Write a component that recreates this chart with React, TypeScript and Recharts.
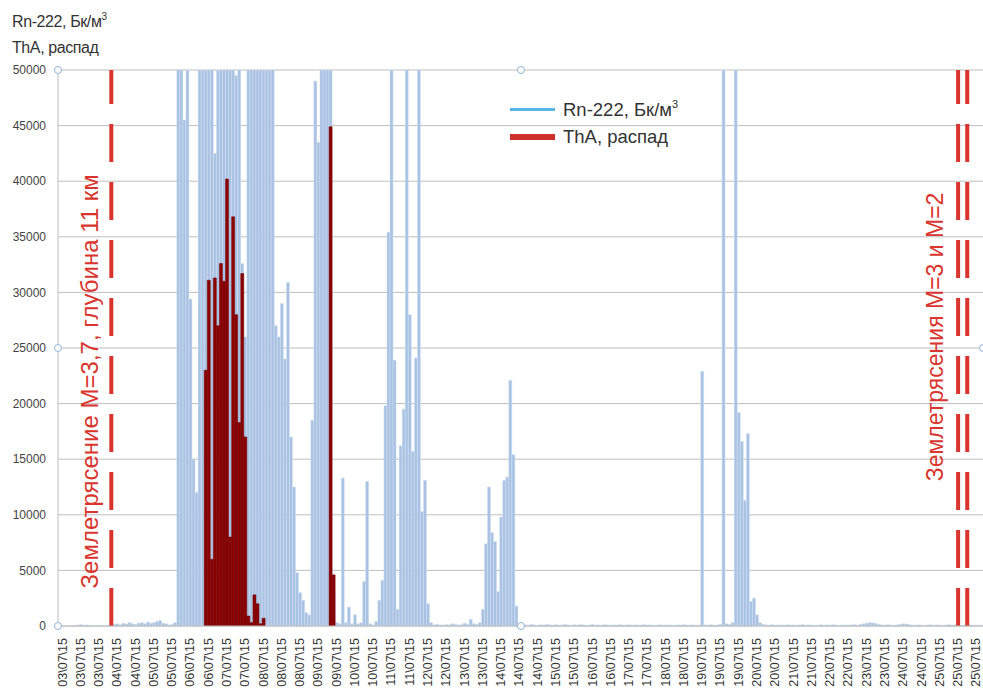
import { BarChart, Bar, XAxis, YAxis, CartesianGrid, ReferenceLine } from 'recharts';

// tick labels, one every 6 samples
const tickDays = [
  '03', '03', '03', '04', '04', '05', '05', '06', '06', '07', '07', '08', '08', '08', '09', '09',
  '10', '10', '11', '11', '12', '12', '13', '13', '14', '14', '14', '15', '15', '16', '16', '17',
  '17', '18', '18', '19', '19', '19', '20', '20', '21', '21', '22', '22', '23', '23', '24', '24',
  '25', '25', '25',
];

// Rn-222, Bq/m3 (values above 50000 are cut at the top of the plot)
const rnValues = [
  0, 0, 30, 0, 50, 0, 80, 120, 60, 100, 40, 0, 30, 60, 0, 50, 80,
  60, 150, 200, 120, 250, 180, 300, 200, 150, 250, 300, 200, 350, 250, 300, 400, 500, 250, 200, 100, 150, 300,
  50000, 50000, 45500, 50000, 29400, 15000, 12000, 50000, 50000, 50000, 50000, 50000, 42500, 50000,
  50000, 50000, 50000, 50000, 50000, 49500, 50000, 32600, 26000, 50000, 50000, 50000, 50000, 50000,
  50000, 50000, 50000, 50000, 27000, 26000, 29000, 24000, 30900, 17000, 12500, 4800, 3000,
  2300, 1200, 1000, 18500, 49000, 43500, 50000, 50000, 50000, 50000, 3000, 300, 200, 13300, 300,
  1700, 200, 1000, 200, 300, 4000, 13000, 200, 100, 400, 2300, 4100, 19800, 35400, 50000, 23900,
  1500, 16200, 19500, 50000, 28000, 15700, 24100, 50000, 10300, 13100, 2000, 300,
  100, 150, 100, 80, 120, 100, 200, 150, 100, 120, 250, 150, 600, 200, 150, 300,
  1500, 7400, 12500, 8400, 7600, 3100, 9800, 13100, 13400, 22100, 15400, 1800,
  200, 120, 100, 80, 150, 100, 60, 120, 90, 150,
  100, 80, 120, 60, 100, 140, 90, 70, 110, 80,
  120, 100, 60, 90, 130, 80, 100, 70, 120, 90,
  60, 100, 80, 120, 90, 70, 110, 60, 100, 80,
  90, 120, 70, 100, 60, 80, 110, 90, 70, 100,
  80, 60, 100, 90, 120, 70, 80, 100, 60, 90,
  22900, 100, 80, 120, 60, 100, 150, 50000, 200, 150, 300, 50000,
  19200, 16600, 11300, 17300, 2200, 2500, 1000,
  300, 150, 100, 80, 120, 60, 100, 90, 70, 110,
  80, 100, 60, 90, 120, 70, 100, 80, 60, 90,
  110, 70, 100, 80, 120, 90, 60, 100, 80, 70,
  100, 120, 90, 150, 200, 250, 300, 280, 220, 150,
  100, 80, 120, 90, 60, 100, 150, 200, 180, 120,
  90, 70, 100, 80, 60, 90, 110, 70, 100, 80,
  60, 90, 120, 70, 100, 80, 60, 90, 70, 100,
  80, 60, 90, 70,
];

// ThA decay, only where it is not zero
const thaIdx = [48, 49, 50, 51, 52, 53, 54, 55, 56, 57, 58, 59, 60, 61, 62, 63, 64, 65, 66, 67, 89, 90];
const thaVal = [
  23000, 31100, 6000, 31300, 27000, 32600, 31000, 40200, 8000, 36800, 28000, 18300, 31700, 17000,
  900, 300, 2800, 2000, 200, 700, 44900, 4600,
];

const yTicks = [0, 5000, 10000, 15000, 20000, 25000, 30000, 35000, 40000, 45000, 50000];

// earthquakes (sample index)
const quakeMain = 17;
const quakeSmall = [295, 298];

const data = rnValues.map((rn, i) => {
  const k = thaIdx.indexOf(i);
  return { i, rn, tha: k >= 0 ? thaVal[k] : 0 };
});

const FONT = '"Liberation Sans", Arial, sans-serif';
const RED = '#d9352e';

const DateTick = ({ x, y, payload }: any) => (
  <g transform={`translate(${x + 3},${y}) rotate(-90)`}>
    <text x={-4} y={0} textAnchor="end" dominantBaseline="central" fontSize={12.5} fill="#333" fontFamily={FONT}>
      {`${tickDays[payload.value / 6]}\\07\\15`}
    </text>
  </g>
);

const QuakeLabel = ({ viewBox, text, dx, frac, size }: any) => {
  if (!viewBox) return null;
  const cx = viewBox.x + dx;
  const cy = viewBox.y + viewBox.height * frac;
  return (
    <text
      x={cx}
      y={cy}
      transform={`rotate(-90 ${cx} ${cy})`}
      textAnchor="middle"
      dominantBaseline="central"
      fill={RED}
      fontSize={size}
      fontFamily={FONT}
    >
      {text}
    </text>
  );
};

const handles = [
  [58, 70], [58, 348], [58, 626], [521, 70], [521, 626], [983, 348],
];

export default function App() {
  return (
    <div style={{ position: 'fixed', left: 0, top: 0, width: 983, height: 693, overflow: 'hidden', background: '#fff', fontFamily: FONT }}>
      <div style={{ position: 'absolute', left: 12, top: 10, fontSize: 16, letterSpacing: -0.4, lineHeight: '24px', color: '#333' }}>
        <div>Rn-222, Бк/м<span style={{ fontSize: 10, position: 'relative', top: -7 }}>3</span></div>
        <div>ThA, распад</div>
      </div>

      <BarChart width={1000} height={693} data={data} margin={{ top: 70, right: 16, bottom: 0, left: 0 }} barCategoryGap={0}>
        <CartesianGrid vertical={false} stroke="#bfbfbf" />
        <XAxis
          xAxisId="a"
          dataKey="i"
          interval={5}
          height={67}
          tick={<DateTick />}
          tickLine={false}
          axisLine={{ stroke: '#bfbfbf' }}
        />
        <XAxis xAxisId="b" dataKey="i" hide />
        <YAxis
          width={58}
          domain={[0, 50000]}
          ticks={yTicks}
          allowDataOverflow
          tickLine={false}
          tickMargin={6}
          axisLine={{ stroke: '#bfbfbf' }}
          tick={{ fontSize: 12, fill: '#444', fontFamily: FONT }}
        />
        <Bar xAxisId="a" dataKey="rn" fill="#a9c2e3" stroke="#d3e0f1" strokeWidth={0.5} isAnimationActive={false} />
        <Bar xAxisId="b" dataKey="tha" fill="#8b0000" stroke="#700000" strokeWidth={0.5} isAnimationActive={false} />
        <ReferenceLine
          xAxisId="a"
          x={quakeMain}
          stroke={RED}
          strokeWidth={4}
          strokeDasharray="38 20"
          label={<QuakeLabel text="Землетрясение М=3,7, глубина 11 км" dx={-22} frac={0.56} size={24} />}
        />
        {quakeSmall.map((q, k) => (
          <ReferenceLine
            key={q}
            xAxisId="a"
            x={q}
            stroke={RED}
            strokeWidth={4}
            strokeDasharray="38 20"
            label={k === 0 ? <QuakeLabel text="Землетрясения М=3 и М=2" dx={-23} frac={0.48} size={23} /> : undefined}
          />
        ))}
      </BarChart>

      <div style={{ position: 'absolute', left: 510, top: 96, fontSize: 18.5, color: '#333' }}>
        <div style={{ display: 'flex', alignItems: 'center', height: 27 }}>
          <span style={{ display: 'inline-block', width: 45, height: 2.5, background: '#5ab4e4', marginRight: 8 }} />
          <span>Rn-222, Бк/м<span style={{ fontSize: 11, position: 'relative', top: -8 }}>3</span></span>
        </div>
        <div style={{ display: 'flex', alignItems: 'center', height: 27 }}>
          <span style={{ display: 'inline-block', width: 45, height: 6, background: '#d0312d', marginRight: 8 }} />
          <span>ThA, распад</span>
        </div>
      </div>

      {handles.map(([hx, hy], k) => (
        <div
          key={k}
          style={{
            position: 'absolute', left: hx - 4, top: hy - 4, width: 6, height: 6,
            borderRadius: '50%', border: '1px solid #8fb5d9', background: '#fff',
          }}
        />
      ))}
    </div>
  );
}
